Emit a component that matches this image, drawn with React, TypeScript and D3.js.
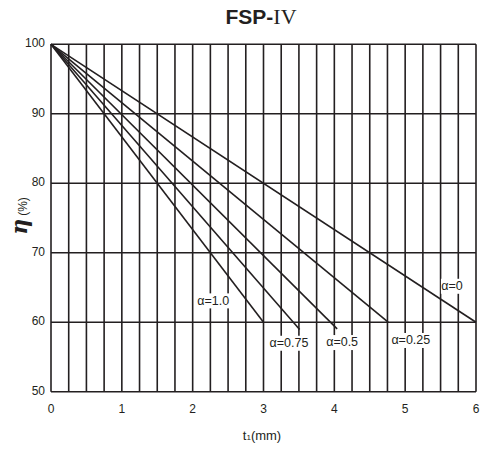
import { useEffect, useRef } from 'react';
import * as d3 from 'd3';

// thickness t1 (mm) vs efficiency eta (%), one straight line per alpha
const alphaLabels = ['α=0', 'α=0.25', 'α=0.5', 'α=0.75', 'α=1.0'];
const lineStarts: [number, number][] = [[0, 100], [0, 100], [0, 100], [0, 100], [0, 100]];
const lineEnds: [number, number][] = [[6, 60], [4.76, 60], [4.04, 59.05], [3.51, 58.95], [3.0, 60]];
// where each alpha label sits, in data units
const labelAt: [number, number][] = [[5.66, 65.1], [5.08, 57.3], [4.11, 57.0], [3.36, 56.9], [2.29, 63.0]];

const xTicks = [0, 1, 2, 3, 4, 5, 6];
const yTicks = [50, 60, 70, 80, 90, 100];
const xGrid = d3.range(0, 6.001, 0.25);

const W = 492;
const H = 449;
const INK = '#231f20';
const SANS = '"Liberation Sans", Arial, sans-serif';

export default function App() {
  const svgRef = useRef<SVGSVGElement>(null);

  useEffect(() => {
    document.body.style.margin = '0';
    if (!svgRef.current) return;
    const svg = d3.select(svgRef.current);
    svg.selectAll('*').remove();

    const x = d3.scaleLinear().domain([0, 6]).range([51, 476]);
    const y = d3.scaleLinear().domain([50, 100]).range([391.7, 44.3]);

    svg.append('rect').attr('width', W).attr('height', H).attr('fill', '#fff');

    const g = svg.append('g');

    // grid
    g.selectAll('.vgrid')
      .data(xGrid)
      .join('line')
      .attr('x1', (d) => x(d)).attr('x2', (d) => x(d))
      .attr('y1', y(100)).attr('y2', y(50))
      .attr('stroke', INK).attr('stroke-width', 1.6);

    g.selectAll('.hgrid')
      .data(yTicks)
      .join('line')
      .attr('x1', x(0)).attr('x2', x(6))
      .attr('y1', (d) => y(d)).attr('y2', (d) => y(d))
      .attr('stroke', INK).attr('stroke-width', 1.6);

    // alpha lines
    const line = d3.line<[number, number]>().x((d) => x(d[0])).y((d) => y(d[1]));
    lineEnds.forEach((end, i) => {
      g.append('path')
        .datum([lineStarts[i], end])
        .attr('d', line)
        .attr('fill', 'none')
        .attr('stroke', INK)
        .attr('stroke-width', 1.6);
    });

    // labels on lines
    alphaLabels.forEach((lab, i) => {
      g.append('rect')
        .attr('x', x(labelAt[i][0]) - lab.length * 3 - 2)
        .attr('y', y(labelAt[i][1]) - 8)
        .attr('width', lab.length * 6 + 4)
        .attr('height', 15)
        .attr('fill', '#fff');
      g.append('text')
        .attr('x', x(labelAt[i][0]))
        .attr('y', y(labelAt[i][1]))
        .attr('text-anchor', 'middle')
        .attr('dominant-baseline', 'middle')
        .attr('font-family', SANS)
        .attr('font-size', 12.5)
        .attr('fill', INK)
        .text(lab);
    });

    // tick labels
    g.selectAll('.ytl')
      .data(yTicks)
      .join('text')
      .attr('x', 45)
      .attr('y', (d) => y(d))
      .attr('text-anchor', 'end')
      .attr('dominant-baseline', 'middle')
      .attr('font-family', SANS)
      .attr('font-size', 12)
      .attr('fill', INK)
      .text((d) => d);

    g.selectAll('.xtl')
      .data(xTicks)
      .join('text')
      .attr('x', (d) => x(d))
      .attr('y', 410)
      .attr('text-anchor', 'middle')
      .attr('dominant-baseline', 'middle')
      .attr('font-family', SANS)
      .attr('font-size', 12)
      .attr('fill', INK)
      .text((d) => d);

    // x axis title
    const xt = g.append('text')
      .attr('x', 262)
      .attr('y', 440)
      .attr('text-anchor', 'middle')
      .attr('font-family', SANS)
      .attr('font-size', 13)
      .attr('fill', INK);
    xt.append('tspan').text('t');
    xt.append('tspan').attr('font-size', 8).text('1');
    xt.append('tspan').text('(mm)');

    // y axis title
    const yt = g.append('text')
      .attr('transform', 'translate(27, 216) rotate(-90)')
      .attr('text-anchor', 'middle')
      .attr('font-family', SANS)
      .attr('fill', INK);
    yt.append('tspan').attr('font-size', 22).attr('font-weight', 'bold').attr('font-style', 'italic')
      .attr('font-family', '"DejaVu Serif", serif').text('η');
    yt.append('tspan').attr('font-size', 12).attr('dx', 3).text('(%)');

    // title
    const tt = g.append('text')
      .attr('x', 261)
      .attr('y', 24)
      .attr('text-anchor', 'middle')
      .attr('fill', INK);
    tt.append('tspan').attr('font-family', SANS)
      .attr('font-weight', 'bold').attr('font-size', 21).text('FSP-');
    tt.append('tspan').attr('font-family', '"Liberation Serif", serif')
      .attr('font-size', 22).text('IV');
  }, []);

  return <svg ref={svgRef} width={W} height={H} style={{ display: 'block' }} />;
}
